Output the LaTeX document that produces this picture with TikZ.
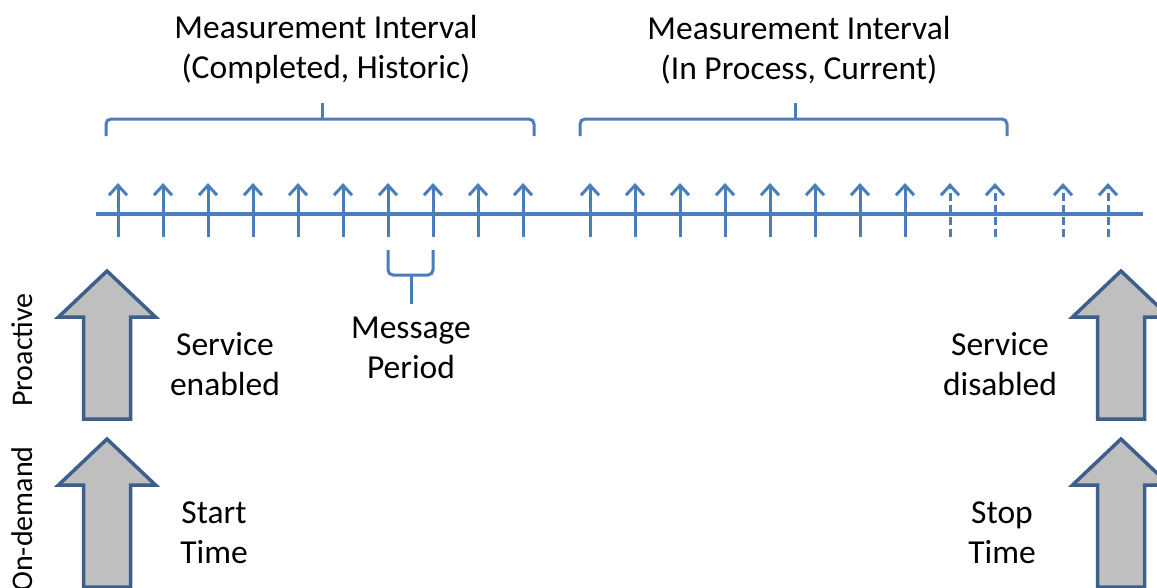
\documentclass[tikz,border=0pt]{standalone}
\usepackage{fontspec}
\setmainfont{Carlito}
\usetikzlibrary{arrows.meta}

\definecolor{axisblue}{HTML}{4A7EBB}
\definecolor{arrowedge}{HTML}{3C5F8C}
\definecolor{arrowfill}{HTML}{BFBFBF}

\tikzset{
  axisline/.style={axisblue, line width=3.5pt},
  sample/.style={axisblue, line width=3pt, -{Straight Barb[length=10pt,width=18pt,line width=3pt]}},
  pending/.style={sample, dash pattern=on 8pt off 4pt},
  bracket/.style={axisblue, line width=3pt, rounded corners=5pt},
  lbl/.style={font=\fontsize{33.5}{40}\selectfont, align=center, inner sep=0pt},
  sidelbl/.style={font=\fontsize{30}{35}\selectfont, rotate=90, inner sep=0pt},
  bigarrow/.pic={
    \draw[arrowedge, fill=arrowfill, line width=3.5pt, line join=miter]
      (0,0) -- (48.5,46) -- (23.5,46) -- (23.5,148) -- (-23.5,148)
      -- (-23.5,46) -- (-48.5,46) -- cycle;
  }
}

\begin{document}
\begin{tikzpicture}[x=1pt, y=-1pt]
\fill[white] (0,0) rectangle (1157,587);
\clip (0,0) rectangle (1157,587);

% time axis
\coordinate (axL) at (96,214);
\coordinate (axR) at (1143,214);
\draw[axisline] (axL) -- (axR);

% message samples
\foreach \x in {118,163,...,523,590,635,...,905}
  \draw[sample] (\x,237) -- (\x,183);
\foreach \x in {950,995,1063,1108}
  \draw[pending] (\x,237) -- (\x,183);

% measurement intervals
\node[lbl] (intHist) at (326,50) {Measurement Interval\\(Completed, Historic)};
\node[lbl] (intCur) at (799,50) {Measurement Interval\\(In Process, Current)};

\draw[bracket] (106,136) -- (106,119) -- (534,119) -- (534,136);
\draw[bracket] (322,119) -- (322,103);
\draw[bracket] (580,136) -- (580,119) -- (1007,119) -- (1007,136);
\draw[bracket] (795,119) -- (795,103);

% message period
\draw[bracket] (388,250) -- (388,275) -- (433,275) -- (433,250);
\draw[bracket] (411,275) -- (411,304);
\node[lbl] (msgPeriod) at (411,348) {Message\\Period};

% start / stop arrows
\pic at (107,271) {bigarrow};
\pic at (107,439) {bigarrow};
\pic at (1121,271) {bigarrow};
\pic at (1121,439) {bigarrow};

\node[lbl] (svcOn) at (225,364) {Service\\enabled};
\node[lbl] (svcOff) at (1000,364) {Service\\disabled};
\node[lbl] (tStart) at (214,533) {Start\\Time};
\node[lbl] (tStop) at (1002,533) {Stop\\Time};

\node[sidelbl] (lblPro) at (22,350) {Proactive};
\node[sidelbl] (lblOnd) at (22,519) {On-demand};

\end{tikzpicture}
\end{document}
